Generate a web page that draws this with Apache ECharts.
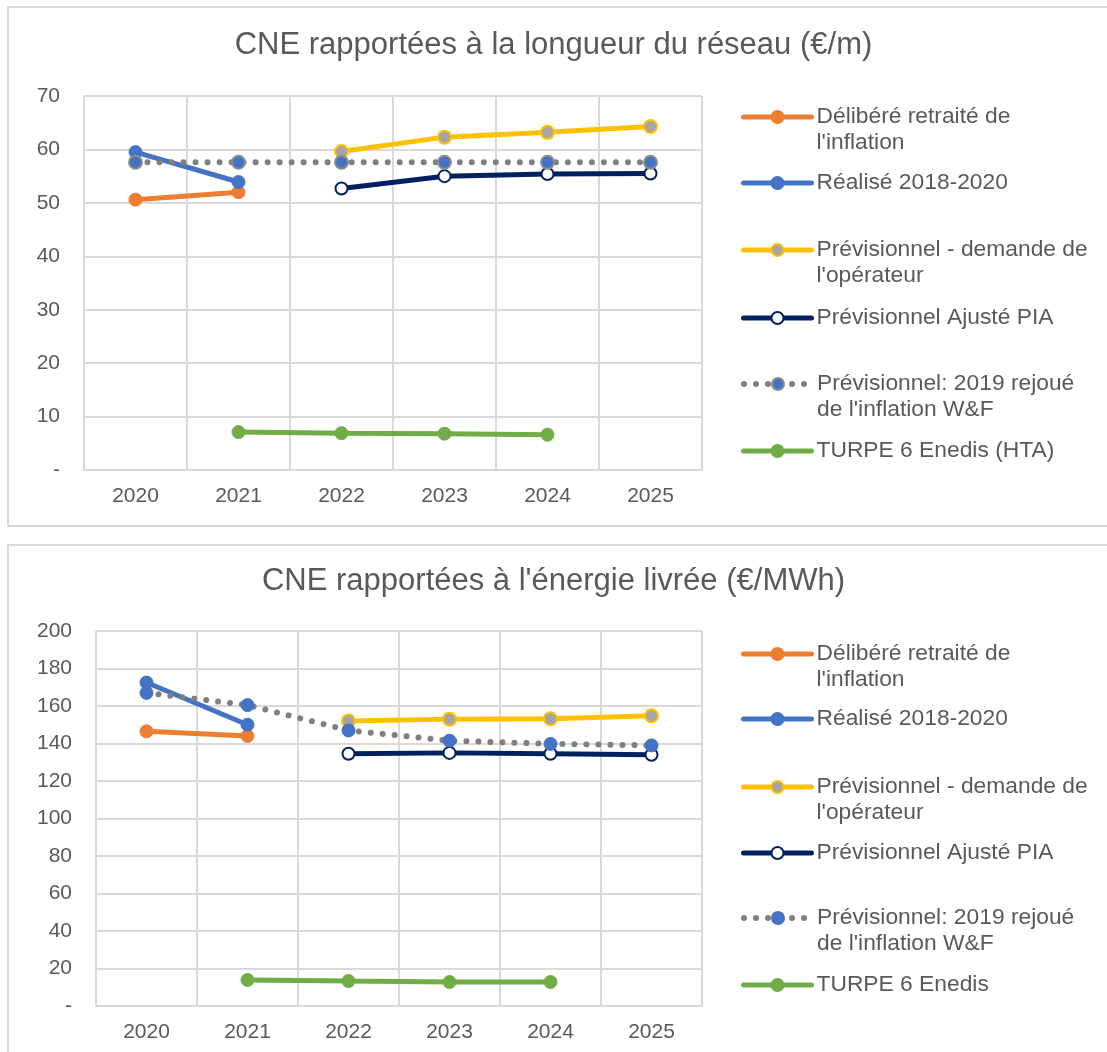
<!DOCTYPE html>
<html><head><meta charset="utf-8">
<script src="https://cdn.jsdelivr.net/npm/echarts@6/dist/echarts.min.js"></script>
<style>html,body{margin:0;padding:0;background:#fff}#c{width:1107px;height:1052px}</style>
</head><body><div id="c"></div>
<script>
const years = ['2020', '2021', '2022', '2023', '2024', '2025'];

// Chart 1: CNE rapportées à la longueur du réseau (€/m)
const topDelibere = [50.6, 52.0, null, null, null, null];
const topRealise = [59.5, 53.9, null, null, null, null];
const topDemande = [null, null, 59.6, 62.3, 63.2, 64.3];
const topAjuste = [null, null, 52.7, 55.0, 55.4, 55.5];
const topRejoue = [57.6, 57.6, 57.6, 57.6, 57.6, 57.6];
const topTurpe = [null, 7.1, 6.9, 6.8, 6.6, null];

// Chart 2: CNE rapportées à l'énergie livrée (€/MWh)
const botDelibere = [146.5, 144.0, null, null, null, null];
const botRealise = [172.5, 150.0, null, null, null, null];
const botDemande = [null, null, 152.0, 153.0, 153.2, 154.8];
const botAjuste = [null, null, 134.5, 135.0, 134.5, 134.0];
const botRejoue = [167.0, 160.5, 147.0, 141.5, 139.8, 139.0];
const botTurpe = [null, 13.9, 13.3, 12.8, 12.8, null];

const titleTop = 'CNE rapportées à la longueur du réseau (€/m)';
const titleBot = "CNE rapportées à l'énergie livrée (€/MWh)";
const labelsTop = ["Délibéré retraité de\nl'inflation", 'Réalisé 2018-2020', "Prévisionnel - demande de\nl'opérateur", 'Prévisionnel Ajusté PIA', "Prévisionnel: 2019 rejoué\nde l'inflation W&F", 'TURPE 6 Enedis (HTA)'];
const labelsBot = ["Délibéré retraité de\nl'inflation", 'Réalisé 2018-2020', "Prévisionnel - demande de\nl'opérateur", 'Prévisionnel Ajusté PIA', "Prévisionnel: 2019 rejoué\nde l'inflation W&F", 'TURPE 6 Enedis'];

const FONT = '"Liberation Sans", Arial, sans-serif';
const TXT = '#595959';
const GRID = '#D9D9D9';

const C = { orange: '#ED7D31', blue: '#4472C4', yellow: '#FFC000', navy: '#002060', gray: '#7F7F7F', green: '#70AD47' };

function mkSeries(prefix, idx, arrs, dottedBorder) {
  const base = (i, data, color, extra) => Object.assign({
    type: 'line', name: prefix + i, data: data, xAxisIndex: idx, yAxisIndex: idx,
    symbol: 'circle', symbolSize: 13, connectNulls: false,
    lineStyle: { color: color, width: 5, cap: 'round' },
    itemStyle: { color: color, borderColor: color, borderWidth: 1 },
    emphasis: { disabled: true }, animation: false, z: 2 + i
  }, extra || {});
  return [
    base(0, arrs[0], C.orange),
    base(1, arrs[1], C.blue),
    base(2, arrs[2], C.yellow, { itemStyle: { color: '#A5A5A5', borderColor: C.yellow, borderWidth: 2 } }),
    base(3, arrs[3], C.navy, { symbolSize: 12, itemStyle: { color: '#FFFFFF', borderColor: C.navy, borderWidth: 2 } }),
    base(4, arrs[4], C.gray, {
      lineStyle: { color: C.gray, width: 6, type: [0.01, 12], cap: 'round' },
      itemStyle: dottedBorder ? { color: C.blue, borderColor: '#8C8C8C', borderWidth: 2 } : { color: C.blue, borderColor: C.blue, borderWidth: 1 }
    }),
    base(5, arrs[5], C.green)
  ];
}

const seriesTop = mkSeries('t', 0, [topDelibere, topRealise, topDemande, topAjuste, topRejoue, topTurpe], true);
const seriesBot = mkSeries('b', 1, [botDelibere, botRealise, botDemande, botAjuste, botRejoue, botTurpe], false);

const nameMap = {};
labelsTop.forEach((l, i) => nameMap['t' + i] = l);
labelsBot.forEach((l, i) => nameMap['b' + i] = l);

// legend item first-line y positions
const legTopY = [117, 183, 250, 318, 384, 451];
const legBotY = [654, 719, 787, 853, 918, 985];

const legends = [];
function addLegends(prefix, ys) {
  ys.forEach((y, i) => {
    const nm = prefix + i;
    const two = nameMap[nm].indexOf('\n') >= 0;
    legends.push({
      data: [nm], left: 741, top: two ? y - 39 : y - 13, orient: 'vertical', padding: 0,
      itemWidth: 68, itemHeight: 15, itemGap: 0, selectedMode: false,
      lineStyle: { width: 'inherit' },
      textStyle: { fontSize: 22.8, color: TXT, fontFamily: FONT, lineHeight: 26 },
      formatter: n => (nameMap[n].indexOf('\n') >= 0 ? '\n' : '') + nameMap[n]
    });
  });
}
addLegends('t', legTopY);
addLegends('b', legBotY);

const axisLabel = { color: TXT, fontSize: 21, fontFamily: FONT };

const option = {
  backgroundColor: '#fff',
  animation: false,
  graphic: [
    { type: 'rect', shape: { x: 8, y: 7, width: 1110, height: 519 }, style: { fill: 'none', stroke: GRID, lineWidth: 2 }, silent: true },
    { type: 'rect', shape: { x: 8, y: 545, width: 1110, height: 520 }, style: { fill: 'none', stroke: GRID, lineWidth: 2 }, silent: true }
  ],
  title: [
    { text: titleTop, left: 'center', top: 30, padding: 0, textStyle: { fontSize: 31, fontWeight: 'normal', color: TXT, fontFamily: FONT } },
    { text: titleBot, left: 'center', top: 566, padding: 0, textStyle: { fontSize: 31, fontWeight: 'normal', color: TXT, fontFamily: FONT } }
  ],
  legend: legends,
  grid: [
    { left: 84, right: 405, top: 96, bottom: 582, containLabel: false },
    { left: 96, right: 405, top: 631, bottom: 46, containLabel: false }
  ],
  xAxis: [0, 1].map(i => ({
    type: 'category', data: years, gridIndex: i, boundaryGap: true,
    axisLine: { show: true, lineStyle: { color: GRID, width: 2 } },
    axisTick: { show: false },
    axisLabel: Object.assign({ margin: 16 }, axisLabel),
    splitLine: { show: true, lineStyle: { color: GRID, width: 2 } }
  })),
  yAxis: [
    { type: 'value', gridIndex: 0, min: 0, max: 70, interval: 10 },
    { type: 'value', gridIndex: 1, min: 0, max: 200, interval: 20 }
  ].map(a => Object.assign(a, {
    axisLine: { show: false }, axisTick: { show: false },
    axisLabel: Object.assign({ margin: 24, formatter: v => v === 0 ? '-' : String(v) }, axisLabel),
    splitLine: { show: true, lineStyle: { color: GRID, width: 2 } }
  })),
  series: seriesTop.concat(seriesBot)
};

const chart = echarts.init(document.getElementById('c'), null, { renderer: 'canvas' });
chart.setOption(option);
</script>
</body></html>
